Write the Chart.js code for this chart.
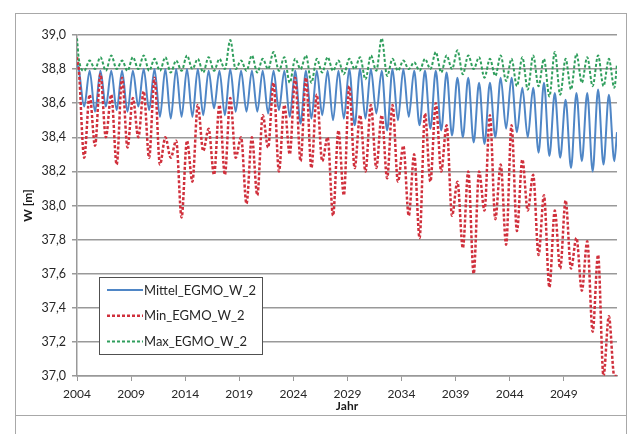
<!DOCTYPE html>
<html>
<head>
<meta charset="utf-8">
<script src="https://cdn.jsdelivr.net/npm/chart.js@4.4.1/dist/chart.umd.min.js"></script>
<style>
html,body{margin:0;padding:0;background:#fff;}
#wrap{position:relative;width:630px;height:434px;overflow:hidden;background:#fff;}
#c{position:absolute;left:0;top:0;}
</style>
</head>
<body>
<div id="wrap">
  <div style="position:absolute;left:15px;top:13px;width:610px;height:440px;border:1px solid #a8a8a8;"></div>
  <div style="position:absolute;left:15px;top:415px;width:612px;height:1px;background:#a8a8a8;"></div>
  <canvas id="c" width="630" height="434"></canvas>
</div>
<script>
// ---- data ----
const years = [2004,2005,2006,2007,2008,2009,2010,2011,2012,2013,
               2014,2015,2016,2017,2018,2019,2020,2021,2022,2023,
               2024,2025,2026,2027,2028,2029,2030,2031,2032,2033,
               2034,2035,2036,2037,2038,2039,2040,2041,2042,2043,
               2044,2045,2046,2047,2048,2049,2050,2051,2052,2053];
const peakMonth = 3;    // seasonal high (March)
const troughMonth = 9;  // seasonal low (September)

const seriesLabels = ['Mittel_EGMO_W_2', 'Min_EGMO_W_2', 'Max_EGMO_W_2'];

// Mittel
const meanStart = 38.83;
const meanPeak = [38.80,38.79,38.79,38.79,38.79,38.79,38.80,38.80,38.80,38.80,
                  38.80,38.80,38.79,38.79,38.80,38.79,38.79,38.79,38.79,38.79,
                  38.79,38.79,38.79,38.79,38.79,38.80,38.80,38.80,38.79,38.80,
                  38.80,38.79,38.79,38.79,38.78,38.75,38.75,38.72,38.72,38.75,
                  38.75,38.69,38.69,38.72,38.66,38.62,38.66,38.66,38.68,38.65];
const meanTrough = [38.58,38.55,38.58,38.56,38.55,38.58,38.56,38.52,38.51,38.52,
                    38.52,38.53,38.57,38.53,38.55,38.55,38.55,38.54,38.56,38.52,
                    38.48,38.51,38.53,38.50,38.51,38.47,38.51,38.54,38.44,38.50,
                    38.52,38.47,38.45,38.44,38.41,38.40,38.37,38.36,38.40,38.45,
                    38.43,38.40,38.31,38.29,38.28,38.22,38.26,38.20,38.24,38.26];
const meanEnd = 38.43;

// Min
const minStart = 38.87;
const minPeak = [38.80,38.65,38.77,38.65,38.75,38.63,38.67,38.75,38.40,38.38,
                 38.38,38.59,38.45,38.59,38.63,38.40,38.40,38.53,38.72,38.59,
                 38.75,38.75,38.65,38.40,38.44,38.70,38.53,38.59,38.53,38.59,
                 38.35,38.30,38.54,38.60,38.47,38.14,38.20,38.20,38.53,38.24,
                 38.47,38.27,38.18,38.06,37.97,38.03,37.81,37.79,37.71,37.35];
const minTrough = [38.28,38.35,38.40,38.24,38.34,38.40,38.28,38.24,38.28,37.93,
                   38.14,38.32,38.18,38.18,38.28,38.01,38.06,38.34,38.20,38.30,
                   38.26,38.22,38.26,37.94,38.06,38.22,38.20,38.22,38.16,38.14,
                   37.94,37.81,38.14,38.20,37.94,37.75,37.60,37.97,37.92,37.77,
                   37.85,37.97,37.71,37.52,37.63,37.63,37.50,37.26,37.00,37.00];
const minEnd = 37.00;

// Max
const maxStart = 38.98;
const maxPeak = [38.86,38.85,38.87,38.88,38.85,38.87,38.88,38.86,38.87,38.85,
                 38.88,38.86,38.87,38.86,38.97,38.85,38.88,38.86,38.90,38.87,
                 38.86,38.88,38.86,38.87,38.85,38.86,38.87,38.88,38.98,38.86,
                 38.85,38.84,38.86,38.90,38.88,38.91,38.88,38.87,38.86,38.88,
                 38.86,38.87,38.88,38.86,38.90,38.86,38.89,38.87,38.88,38.86];
const maxTrough = [38.79,38.80,38.79,38.80,38.79,38.80,38.79,38.79,38.78,38.79,
                   38.80,38.78,38.79,38.80,38.80,38.79,38.78,38.80,38.79,38.72,
                   38.80,38.72,38.78,38.79,38.77,38.80,38.74,38.79,38.76,38.79,
                   38.80,38.79,38.80,38.78,38.80,38.77,38.80,38.75,38.76,38.73,
                   38.70,38.68,38.70,38.64,38.65,38.68,38.72,38.70,38.70,38.69];
const maxEnd = 38.83;

const xTickYears = [2004,2009,2014,2019,2024,2029,2034,2039,2044,2049];
const yTickValues = [37.0,37.2,37.4,37.6,37.8,38.0,38.2,38.4,38.6,38.8,39.0];
const yTickLabels = ['37,0','37,2','37,4','37,6','37,8','38,0','38,2','38,4','38,6','38,8','39,0'];

// ---- build point lists (dates -> decimal years) ----
const firstX = years[0];
const lastX = years[years.length - 1] + 11 / 12;
function buildSeries(start, peaks, troughs, end) {
  const pts = [{x: firstX, y: start}];
  years.forEach((yr, i) => {
    pts.push({x: yr + (peakMonth - 1) / 12, y: peaks[i]});
    pts.push({x: yr + (troughMonth - 1) / 12, y: troughs[i]});
  });
  pts.push({x: lastX, y: end});
  return pts;
}

const legendBox = {
  id: 'legendBox',
  afterDraw(chart) {
    const ctx = chart.ctx;
    ctx.save();
    ctx.fillStyle = '#ffffff';
    ctx.fillRect(99.5, 277.5, 163, 77);
    ctx.strokeStyle = '#505050';
    ctx.lineWidth = 1;
    ctx.strokeRect(99.5, 277.5, 163, 77);
    chart.data.datasets.forEach((ds, i) => {
      const y = 290 + i * 25.7;
      ctx.strokeStyle = ds.borderColor;
      ctx.lineWidth = ds.borderWidth;
      ctx.setLineDash(ds.borderDash || []);
      ctx.beginPath();
      ctx.moveTo(107, y);
      ctx.lineTo(143, y);
      ctx.stroke();
      ctx.setLineDash([]);
      ctx.fillStyle = '#262626';
      ctx.font = '13px Lato';
      ctx.textBaseline = 'middle';
      ctx.textAlign = 'left';
      ctx.fillText(ds.label, 144, y + 0.5);
    });
    ctx.restore();
  }
};

new Chart(document.getElementById('c'), {
  type: 'line',
  data: {
    datasets: [
      {label: seriesLabels[0], data: buildSeries(meanStart, meanPeak, meanTrough, meanEnd),
       borderColor: '#4f86c6', borderWidth: 2, order: 2},
      {label: seriesLabels[1], data: buildSeries(minStart, minPeak, minTrough, minEnd),
       borderColor: '#d0303c', borderWidth: 2.5, borderDash: [3, 2], order: 1},
      {label: seriesLabels[2], data: buildSeries(maxStart, maxPeak, maxTrough, maxEnd),
       borderColor: '#2f9e5c', borderWidth: 2, borderDash: [3, 2], order: 0}
    ]
  },
  options: {
    responsive: false,
    animation: false,
    layout: {padding: {left: 0, right: 13, top: 35, bottom: 0}},
    elements: {point: {radius: 0}, line: {cubicInterpolationMode: 'monotone', fill: false}},
    plugins: {legend: {display: false}, tooltip: {enabled: false}},
    scales: {
      x: {
        type: 'linear', min: firstX, max: lastX,
        afterBuildTicks: ax => { ax.ticks = xTickYears.map(v => ({value: v})); },
        afterFit: s => { s.height = 58; },
        grid: {drawOnChartArea: false, drawTicks: true, tickLength: 5, color: '#999999'},
        border: {display: true, color: '#999999', width: 1.5},
        ticks: {font: {family: 'Lato', size: 12}, color: '#262626', padding: 6,
                maxRotation: 0, autoSkip: false, callback: v => String(v)},
        title: {display: true, text: 'Jahr', color: '#1a1a1a',
                font: {family: 'Lato', size: 12, weight: 'bold'}, padding: {top: 0, bottom: 21}}
      },
      y: {
        min: 37, max: 39,
        afterBuildTicks: ax => { ax.ticks = yTickValues.map(v => ({value: v})); },
        afterFit: s => { s.width = 77; },
        grid: {color: '#999999', lineWidth: 1.5, tickLength: 5},
        border: {display: true, color: '#999999', width: 1.5},
        ticks: {font: {family: 'Lato', size: 12.5}, color: '#262626', padding: 6,
                callback: (v, i) => yTickLabels[i]},
        title: {display: true, text: 'W [m]', color: '#1a1a1a',
                font: {family: 'Lato', size: 12, weight: 'bold'}, padding: {top: 21, bottom: 0}}
      }
    }
  },
  plugins: [legendBox]
});
</script>
</body>
</html>
